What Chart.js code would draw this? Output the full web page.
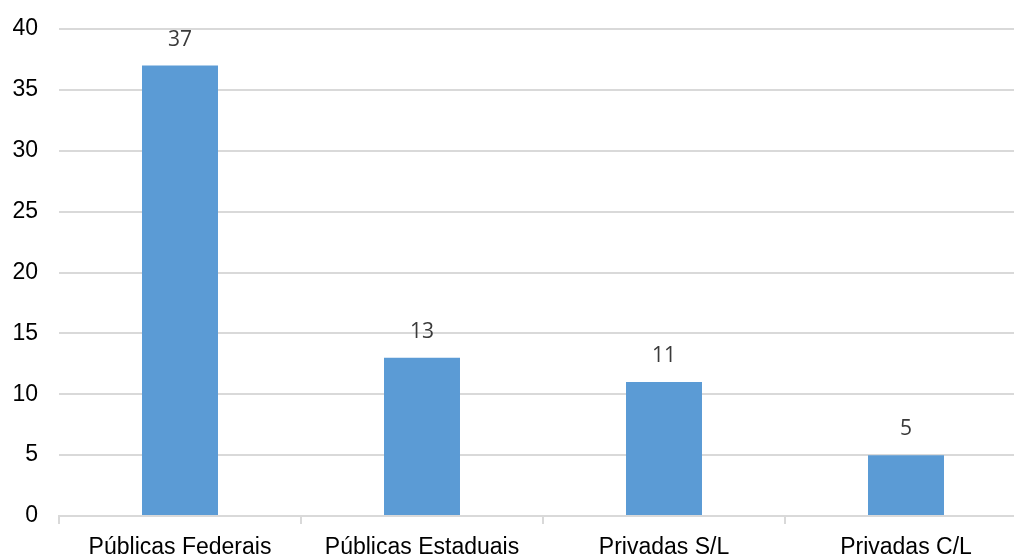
<!DOCTYPE html>
<html>
<head>
<meta charset="utf-8">
<script src="https://cdn.jsdelivr.net/npm/chart.js@4/dist/chart.umd.min.js"></script>
<style>
  html, body { margin: 0; padding: 0; background: #fff; overflow: hidden; }
  #wrap { width: 1014px; height: 557px; overflow: hidden; }
</style>
</head>
<body>
<div id="wrap"><canvas id="grafico" width="1027" height="557"></canvas></div>
<script>
var categorias = ['Públicas Federais', 'Públicas Estaduais', 'Privadas S/L', 'Privadas C/L'];
var valores = [37, 13, 11, 5];

// rotulos de valor acima das barras
var rotulosPlugin = {
	id: 'rotulos',
	afterDatasetsDraw: function (chart) {
		var ctx = chart.ctx;
		var meta = chart.getDatasetMeta(0);
		ctx.save();
		ctx.font = '21px "Open Sans", sans-serif';
		ctx.fillStyle = '#3a3a3a';
		ctx.textAlign = 'center';
		ctx.textBaseline = 'middle';
		meta.data.forEach(function (barra, i) {
			ctx.fillText(String(valores[i]), barra.x, barra.y - 26);
		});
		ctx.restore();
	}
};

var ctx = document.getElementById('grafico').getContext('2d');
var grafico = new Chart(ctx, {
	type: 'bar',
	data: {
		labels: categorias,
		datasets: [{
			data: valores,
			backgroundColor: '#5b9bd5',
			borderWidth: 0,
			categoryPercentage: 1,
			barPercentage: 0.314
		}]
	},
	options: {
		responsive: false,
		devicePixelRatio: 1,
		animation: false,
		layout: { padding: { top: 29, right: 0, left: 0, bottom: 0 } },
		plugins: {
			legend: { display: false },
			tooltip: { enabled: false }
		},
		scales: {
			x: {
				offset: true,
				border: { color: '#d9d9d9', width: 2 },
				grid: {
					offset: true,
					drawOnChartArea: false,
					color: '#d9d9d9',
					lineWidth: 2,
					tickLength: 8
				},
				ticks: {
					color: '#000',
					font: { family: '"Liberation Sans", Arial, sans-serif', size: 23 },
					padding: 10,
					maxRotation: 0
				},
				afterFit: function (scale) { scale.height = 41; }
			},
			y: {
				min: 0,
				max: 40,
				border: { display: false },
				grid: { color: '#d9d9d9', lineWidth: 2, tickLength: 18, tickColor: 'rgba(0,0,0,0)' },
				ticks: {
					stepSize: 5,
					color: '#000',
					font: { family: '"Liberation Sans", Arial, sans-serif', size: 23 },
					padding: 3
				},
				afterFit: function (scale) { scale.width = 59; }
			}
		}
	},
	plugins: [rotulosPlugin]
});
</script>
</body>
</html>
